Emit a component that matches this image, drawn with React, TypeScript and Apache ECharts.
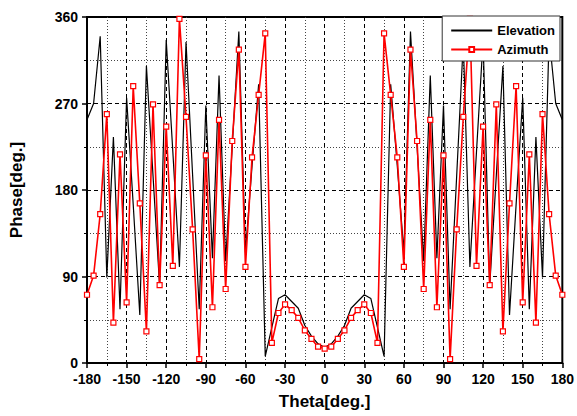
import React, { useEffect, useRef } from "react";
import * as echarts from "echarts";

const theta = [
  -180, -175, -170, -165, -160, -155, -150, -145, -140, -135, -130, -125, -120, -115, -110, -105, -100, -95,
  -90, -85, -80, -75, -70, -65, -60, -55, -50, -45, -40, -35, -30, -25, -20, -15, -10, -5,
  0, 5, 10, 15, 20, 25, 30, 35, 40, 45, 50, 55, 60, 65, 70, 75, 80, 85, 90,
  95, 100, 105, 110, 115, 120, 125, 130, 135, 140, 145, 150, 155, 160, 165, 170, 175, 180,
];

const elevation = [
  253, 270, 340, 89, 235, 56, 276, 165, 50, 309, 195, 80, 336, 220, 100, 334, 195, 56,
  268, 109, 299, 106, 225, 345, 115, 205, 290, 7, 37, 67, 71, 64, 57, 39, 28, 20,
  16, 20, 28, 39, 57, 64, 71, 67, 37, 7, 290, 205, 115, 345, 225, 106, 299, 109, 268,
  56, 195, 334, 100, 220, 336, 80, 195, 309, 50, 165, 276, 56, 235, 89, 340, 270, 253,
];

const azimuth = [
  71, 91, 155, 259, 42, 217, 63, 288, 166, 33, 269, 81, 246, 101, 358, 256, 139, 4,
  216, 58, 253, 77, 231, 326, 100, 214, 279, 343, 21, 52, 61, 55, 47, 34, 25, 17,
  15, 17, 25, 34, 47, 55, 61, 52, 21, 343, 279, 214, 100, 326, 231, 77, 253, 58, 216,
  4, 139, 256, 358, 101, 246, 81, 269, 33, 166, 288, 63, 217, 42, 259, 155, 91, 71,
];

const seriesNames = ["Elevation", "Azimuth"];
const xTitle = "Theta[deg.]";
const yTitle = "Phase[deg.]";

const FONT = "Liberation Sans, Arial, sans-serif";

export default function App() {
  const ref = useRef<HTMLDivElement>(null);
  useEffect(() => {
    if (!ref.current) return;
    const chart = echarts.init(ref.current, null, { renderer: "svg" });
    const labelStyle = { fontFamily: FONT, fontWeight: "bold" as const, fontSize: 14, color: "#000" };
    const nameStyle = { fontFamily: FONT, fontWeight: "bold" as const, fontSize: 17, color: "#000" };
    const axisCommon = {
      type: "value" as const,
      nameLocation: "middle" as const,
      nameTextStyle: nameStyle,
      axisLine: { show: true, onZero: false, lineStyle: { color: "#000", width: 2 } },
      axisTick: { show: true, inside: false, length: 5, lineStyle: { color: "#000", width: 1.5 } },
      minorTick: { show: true, splitNumber: 2, length: 3, lineStyle: { color: "#000", width: 1 } },
      axisLabel: { ...labelStyle, margin: 9 },
      splitLine: { show: true, lineStyle: { color: "#000", type: [4, 3], width: 1 } },
      minorSplitLine: { show: true, lineStyle: { color: "#444", type: [1, 2], width: 1 } },
    };
    chart.setOption({
      animation: false,
      backgroundColor: "#fff",
      grid: {
        left: 86,
        right: 14,
        top: 17,
        bottom: 53,
        show: true,
        borderColor: "#000",
        borderWidth: 2,
        backgroundColor: "transparent",
      },
      legend: {
        data: [
          { name: seriesNames[0], itemStyle: { opacity: 0 } },
          { name: seriesNames[1] },
        ],
        orient: "vertical",
        right: 17,
        top: 16,
        backgroundColor: "#fff",
        borderColor: "#333",
        borderWidth: 1,
        borderRadius: 0,
        padding: [8, 5, 5, 8],
        itemWidth: 41,
        itemHeight: 6,
        itemGap: 6,
        textStyle: { fontFamily: FONT, fontWeight: "bold", fontSize: 13, color: "#000" },
      },
      xAxis: {
        ...axisCommon,
        min: -180,
        max: 180,
        interval: 30,
        name: xTitle,
        nameGap: 30,
      },
      yAxis: {
        ...axisCommon,
        min: 0,
        max: 360,
        interval: 90,
        name: yTitle,
        nameGap: 62,
      },
      series: [
        {
          name: seriesNames[0],
          type: "line",
          data: theta.map((t, i) => [t, elevation[i]]),
          symbol: "none",
          showSymbol: false,
          lineStyle: { color: "#000", width: 1.2 },
          itemStyle: { color: "#000" },
          z: 2,
        },
        {
          name: seriesNames[1],
          type: "line",
          data: theta.map((t, i) => [t, azimuth[i]]),
          symbol: "rect",
          symbolSize: 5,
          showSymbol: true,
          lineStyle: { color: "#ff0000", width: 1.6 },
          itemStyle: { color: "#fff", borderColor: "#ff0000", borderWidth: 1.2 },
          z: 3,
        },
      ],
    });
    return () => chart.dispose();
  }, []);
  return (
    <div
      ref={ref}
      style={{ position: "fixed", left: 0, top: 0, width: 577, height: 416, background: "#fff" }}
    />
  );
}
